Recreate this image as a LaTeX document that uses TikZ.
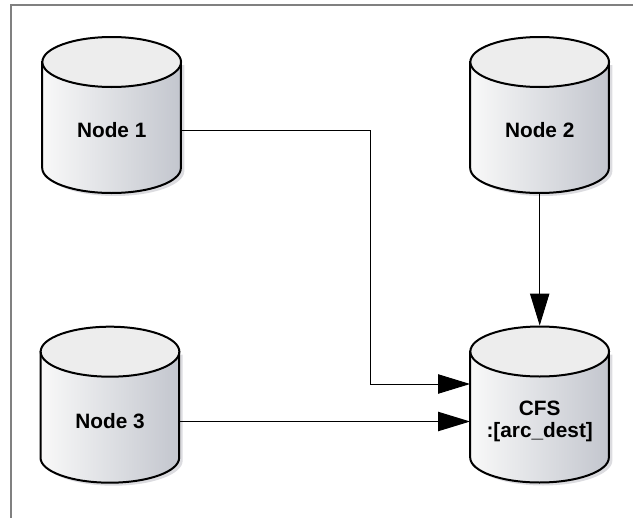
\documentclass[tikz,border=0pt]{standalone}
\usepackage{fontspec}
\setmainfont{Liberation Sans}
\usetikzlibrary{arrows.meta,calc}

\definecolor{diskmid}{HTML}{DEDFE3}
\definecolor{diskside}{HTML}{C3C6CE}
\definecolor{diskcap}{HTML}{EDEDED}
\definecolor{frame}{HTML}{808080}
\definecolor{diskshadow}{HTML}{DCDCE0}

\tikzset{
  disk/.style={minimum width=104pt,minimum height=94pt,inner sep=0pt,align=center,font=\bfseries\fontsize{15.6}{16.5}\selectfont},
  wall/.style={line width=1.5pt,draw=black,left color=white!95!gray,middle color=diskmid,right color=diskside},
  lid/.style={line width=1.5pt,draw=black,fill=diskcap},
  link/.style={line width=0.75pt,black,>={Triangle[length=24pt,width=14.5pt]}},
}

% one disk: name, middle, height of the lid, height of the text, text
\newcommand{\disk}[5]{
  \fill[diskshadow] (#2-66,#3+3) -- ++(0,106) arc[start angle=180,end angle=360,x radius=52pt,y radius=18.75pt] -- ++(0,-106) -- cycle;
  \path[wall] (#2-69.5,#3) -- ++(0,106) arc[start angle=180,end angle=360,x radius=52pt,y radius=18.75pt] -- ++(0,-106) -- cycle;
  \draw[lid] (#2,#3) ellipse (52pt and 18.75pt);
  \node[disk] (#1) at (#2,#4) {#5};
}

\begin{document}
\begin{tikzpicture}[x=0.75pt,y=-0.75pt]

  \useasboundingbox (0,0) rectangle (633,518);

% frame
  \draw[frame,line width=1pt] (11,518) -- (11,5) -- (633,5);

% disks
  \disk{nodeone}{111.7}{62}{130}{Node 1}
  \disk{nodetwo}{539.7}{62}{130}{Node 2}
  \disk{nodethree}{110}{351.7}{421.5}{Node 3}
  \disk{cfs}{539.7}{351.5}{421.5}{CFS\\:[arc\_dest]}

% links to the shared disk
  \coordinate (bend) at (370,384);
  \draw[link,->] (nodeone.east) -| (bend) -- (bend -| cfs.west);
  \draw[link,->] (nodetwo.south) -- ($(cfs.north)+(0,-33)$);
  \draw[link,->] (nodethree.east) -- (cfs.west);

\end{tikzpicture}
\end{document}
